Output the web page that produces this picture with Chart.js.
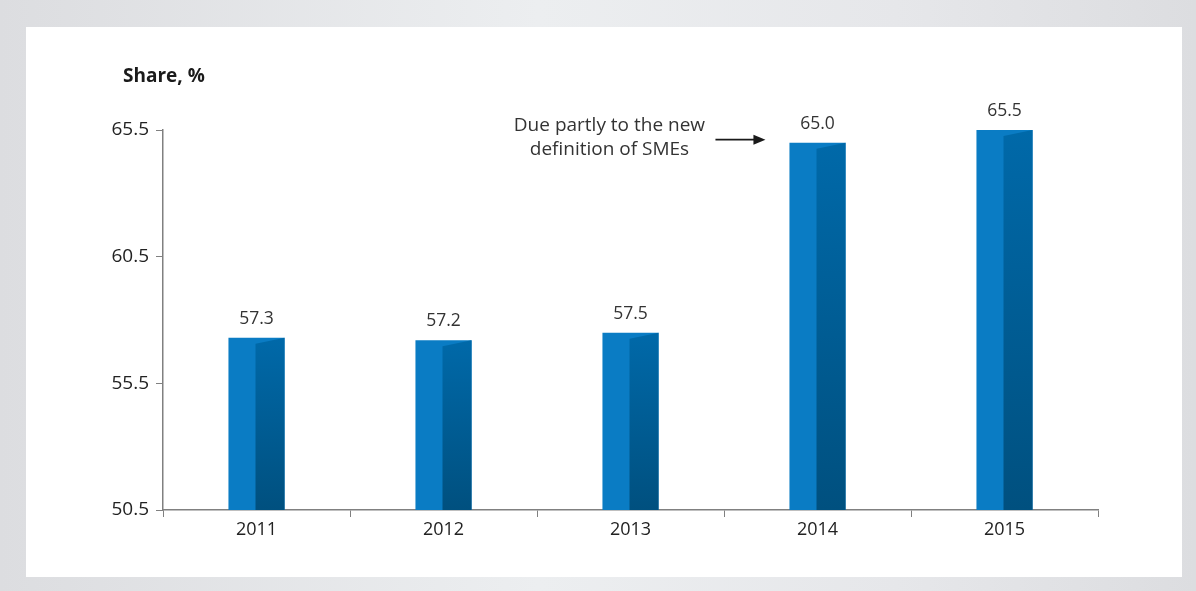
<!DOCTYPE html>
<html>
<head>
<meta charset="utf-8">
<script src="https://cdn.jsdelivr.net/npm/chart.js@4/dist/chart.umd.min.js"></script>
<style>
  html, body { margin: 0; padding: 0; }
  body { width: 1196px; height: 591px; overflow: hidden;
         background: linear-gradient(90deg, #dcdde0 0%, #eceef0 45%, #e6e7ea 75%, #dcdde0 100%); position: relative; }
  #panel { position: absolute; left: 26px; top: 27px; width: 1156px; height: 550px; background: #ffffff; }
  #wrap { position: absolute; left: 0; top: 0; width: 1196px; height: 591px; }
</style>
</head>
<body>
<div id="panel"></div>
<div id="wrap"><canvas id="c" width="1196" height="591"></canvas></div>
<script>
const categories = ['2011', '2012', '2013', '2014', '2015'];
const shareValues = [57.3, 57.2, 57.5, 65.0, 65.5];
const yTicks = [50.5, 55.5, 60.5, 65.5];
const yAxisTitle = 'Share, %';
const noteLines = ['Due partly to the new', 'definition of SMEs'];
const noteCategory = '2014';

const FONT = '"Open Sans", Lato, sans-serif';

const bar3d = {
  id: 'bar3d',
  afterDatasetsDraw(chart) {
    const ctx = chart.ctx;
    const meta = chart.getDatasetMeta(0);
    const bottom = chart.chartArea.bottom;
    meta.data.forEach((bar, i) => {
      const w = bar.width;
      const right = bar.x + w / 2;
      const mid = bar.x - 1;
      const top = bar.y, base = Math.min(bar.base, bottom);
      const g = ctx.createLinearGradient(0, top, 0, base);
      g.addColorStop(0, '#0069a9');
      g.addColorStop(1, '#00507f');
      ctx.save();
      ctx.beginPath();
      ctx.moveTo(mid, top + 6);
      ctx.lineTo(right, top);
      ctx.lineTo(right, base);
      ctx.lineTo(mid, base);
      ctx.closePath();
      ctx.fillStyle = g;
      ctx.fill();
      // value label
      ctx.fillStyle = '#333333';
      ctx.font = '17.5px ' + FONT;
      ctx.textAlign = 'center';
      ctx.textBaseline = 'middle';
      ctx.fillText(shareValues[i].toFixed(1), bar.x, top - 19);
      ctx.restore();
    });
    // y title
    ctx.save();
    ctx.fillStyle = '#1a1a1a';
    ctx.font = 'bold 19px ' + FONT;
    ctx.textAlign = 'left';
    ctx.textBaseline = 'middle';
    ctx.fillText(yAxisTitle, 123, 77);
    // annotation
    const idx = categories.indexOf(noteCategory);
    const nb = meta.data[idx];
    const tipX = nb.x - nb.width / 2 - 24;
    const ay = nb.y - 3;
    ctx.strokeStyle = '#1a1a1a';
    ctx.lineWidth = 1.6;
    ctx.beginPath();
    ctx.moveTo(tipX - 50, ay);
    ctx.lineTo(tipX - 8, ay);
    ctx.stroke();
    ctx.beginPath();
    ctx.moveTo(tipX, ay);
    ctx.lineTo(tipX - 12, ay - 5);
    ctx.lineTo(tipX - 12, ay + 5);
    ctx.closePath();
    ctx.fillStyle = '#1a1a1a';
    ctx.fill();
    ctx.fillStyle = '#333333';
    ctx.font = '19px ' + FONT;
    ctx.textAlign = 'center';
    const cx = tipX - 156;
    ctx.fillText(noteLines[0], cx, ay - 14);
    ctx.fillText(noteLines[1], cx, ay + 10);
    ctx.restore();
  }
};

new Chart(document.getElementById('c'), {
  type: 'bar',
  data: {
    labels: categories,
    datasets: [{
      data: shareValues,
      backgroundColor: '#0a7cc4',
      borderWidth: 0,
      barPercentage: 0.6,
      categoryPercentage: 0.5
    }]
  },
  options: {
    responsive: false,
    animation: false,
    events: [],
    layout: { padding: { top: 130, right: 98, left: 0, bottom: 0 } },
    plugins: { legend: { display: false }, tooltip: { enabled: false } },
    scales: {
      x: {
        offset: true,
        grid: { offset: true, drawOnChartArea: false, drawTicks: true, tickLength: 7, color: '#808080', lineWidth: 1 },
        border: { color: '#808080', width: 1.5 },
        ticks: { color: '#222222', font: { family: FONT, size: 18 }, padding: 2 },
        afterFit: s => { s.height = 81; }
      },
      y: {
        min: 50.5, max: 65.5,
        afterBuildTicks: s => { s.ticks = yTicks.map(v => ({ value: v })); },
        grid: { drawOnChartArea: false, drawTicks: true, tickLength: 7, color: '#808080' },
        border: { color: '#808080', width: 1.5 },
        ticks: { color: '#222222', font: { family: FONT, size: 19 }, padding: 7,
                 callback: v => v.toFixed(1) },
        afterFit: s => { s.width = 163; }
      }
    }
  },
  plugins: [bar3d]
});
</script>
</body>
</html>
